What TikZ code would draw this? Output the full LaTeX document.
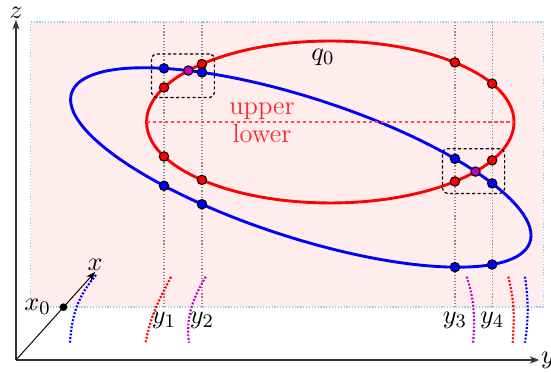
\documentclass[tikz,border=0pt]{standalone}
\usepackage{xcolor}
\usepackage{tikz}
\usetikzlibrary{arrows.meta,intersections,fit,calc}
\definecolor{crossmag}{HTML}{C000C0}
\definecolor{skyedge}{HTML}{9ACCEE}
\definecolor{guidegray}{HTML}{8A8A8A}

\begin{document}
\begin{tikzpicture}[
		font=\fontsize{11}{13}\selectfont,
		ax/.style={-{Stealth[length=4pt,width=3pt]},line width=0.5pt,draw=black!80},
		axlbl/.style={inner sep=0.5pt},
		guide/.style={draw=guidegray,line width=0.5pt,dash pattern=on 0.5pt off 0.8pt},
		orbit/.style={line width=1.2pt},
		hit/.style={circle,draw=black,line width=0.45pt,inner sep=0pt,minimum size=3.9pt},
		hitr/.style={hit,fill=red},
		hitb/.style={hit,fill=blue},
		hitm/.style={hit,fill=crossmag},
		trail/.style={line width=0.9pt,dash pattern=on 0.8pt off 0.7pt},
		zbox/.style={draw,line width=0.5pt,dash pattern=on 1.3pt off 1pt,rounded corners=2pt,inner xsep=3pt,inner ysep=2pt}
		]
		\useasboundingbox (-0.234,-0.205) rectangle (7.837,5.273);
		\filldraw[fill=red!7,draw=skyedge,line width=0.5pt,dash pattern=on 0.5pt off 0.7pt] (0.215,0.776) rectangle (7.724,4.951);
		\coordinate (o) at (0,0);
		\coordinate (yend) at (7.665,0);
		\coordinate (zend) at (0,4.98);
		\coordinate (xend) at (1.16,1.29);
		\draw[ax] (o) -- (yend) node[right,axlbl] {$y$};
		\draw[ax] (o) -- (zend) node[above,axlbl] {$z$};
		\draw[ax,line width=0.4pt,draw=black] (o) -- (xend) node[above,axlbl] {$x$};
		\node[circle,fill=black,inner sep=0pt,minimum size=3.2pt,label=left:$x_0$] (x0) at ($(o)!0.6!(xend)$) {};
		\foreach \i/\gx in {1/2.168,2/2.724,3/6.430,4/6.975}{
			\draw[guide,name path global=g\i] (\gx,4.951) -- (\gx,0.776) coordinate (gb\i);
			\node[below,inner sep=2pt] (ylbl\i) at (gb\i) {$y_\i$};
		}
		\draw[red,orbit,name path=redq] (4.604,3.486) ellipse [x radius=2.691,y radius=1.186];
		\draw[blue,orbit,name path=blueq,rotate around={-18:(4.172,2.820)}] (4.172,2.820) ellipse [x radius=3.53,y radius=1.021];
		\draw[red!70,line width=0.5pt,dash pattern=on 1.3pt off 1.2pt] (1.913,3.486) coordinate (mjl) -- (7.295,3.486) coordinate (mjr);
		\coordinate (mjmid) at (3.603,3.486);
		\node[red!85,above,inner sep=0.8pt] (up) at (mjmid) {upper};
		\node[red!85,below,inner sep=0.8pt] (lo) at (mjmid) {lower};
		\node (q0) at (4.497,4.438) {$q_0$};
		\foreach \i in {1,...,4}{
			\path[name intersections={of=redq and g\i,sort by=g\i,name=rr\i}]
				(rr\i-1) node[hitr] (ru\i) {} (rr\i-2) node[hitr] (rl\i) {};
			\path[name intersections={of=blueq and g\i,sort by=g\i,name=bb\i}]
				(bb\i-1) node[hitb] (bu\i) {} (bb\i-2) node[hitb] (bl\i) {};
		}
		\path[name intersections={of=redq and blueq,name=cr}]
			(cr-1) node[hitm] (cr1) {} (cr-2) node[hitm] (cr2) {};
		\node[zbox,fit=(bu1)(ru1)(ru2)(bu2)] (box1) {};
		\node[zbox,fit=(bu3)(rl3)(rl4)(bu4)] (box2) {};
		\draw[trail,blue] (1.172,1.245) to[out=-130,in=86] (0.791,0.253);
		\draw[trail,red] (2.270,1.216) to[out=-117,in=80] (1.900,0.253);
		\draw[trail,crossmag] (2.779,1.220) to[out=-120,in=97] (2.534,0.253);
		\draw[trail,crossmag] (6.602,1.220) to[out=-72,in=87] (6.698,0.253);
		\draw[trail,red] (7.211,1.220) to[out=-76,in=86] (7.275,0.253);
		\draw[trail,blue] (7.456,1.220) to[out=-82,in=82] (7.456,0.253);
	\end{tikzpicture}
\end{document}
